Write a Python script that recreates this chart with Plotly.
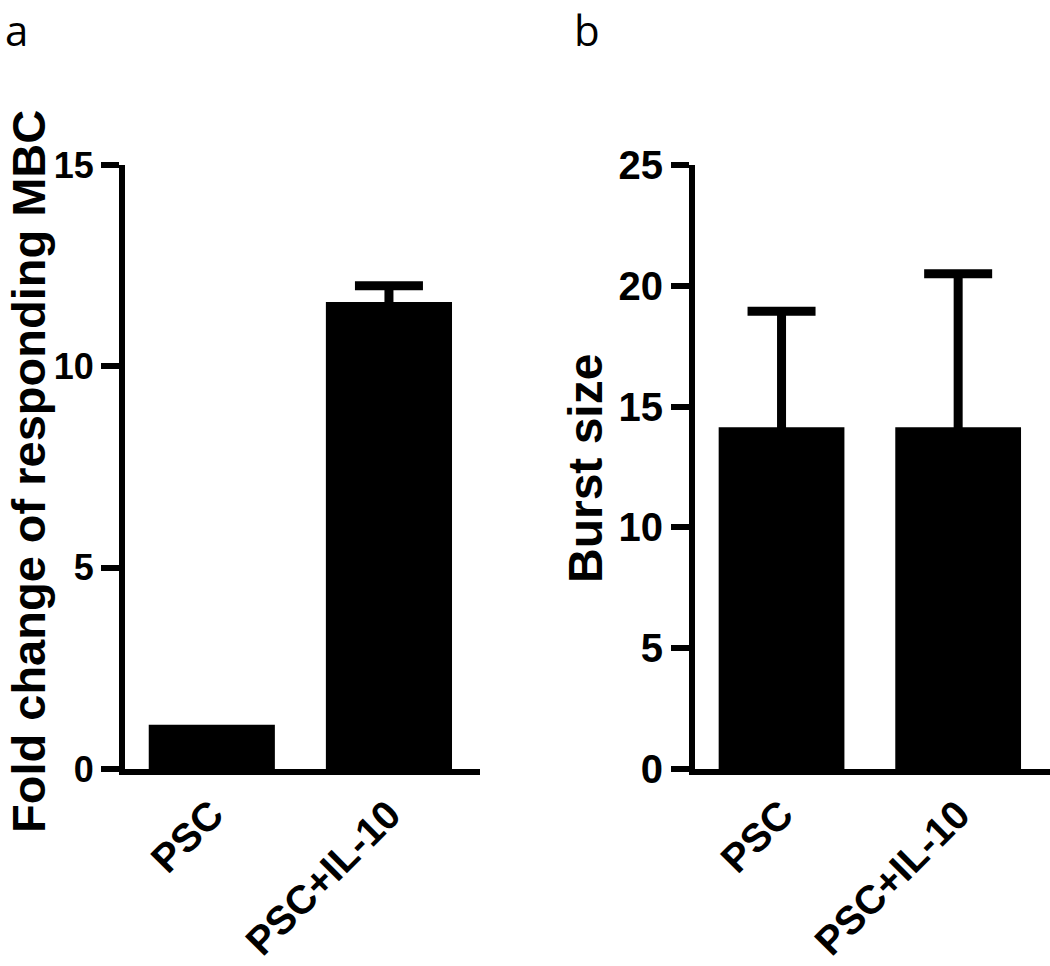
import plotly.graph_objects as go

categories = ["PSC", "PSC+IL-10"]

fold_change = [1.1, 11.6]
fold_change_err = [0.0, 0.4]

burst_size = [14.15, 14.15]
burst_size_err = [4.8, 6.35]

panel_a_ticks = [0, 5, 10, 15]
panel_b_ticks = [0, 5, 10, 15, 20, 25]

BLACK = "black"
TICKFONT = "Liberation Sans, Arial, sans-serif"

fig = go.Figure()


def add_bars(values, errors, xa, ya):
    for cat, val, err in zip(categories, values, errors):
        fig.add_trace(go.Bar(
            x=[cat], y=[val], width=0.712,
            marker=dict(color=BLACK, line=dict(width=0)),
            error_y=dict(type="data", symmetric=True, array=[err],
                         visible=err > 0, color=BLACK, thickness=9, width=34),
            xaxis=xa, yaxis=ya, showlegend=False,
        ))


add_bars(fold_change, fold_change_err, "x", "y")
add_bars(burst_size, burst_size_err, "x2", "y2")

W, H = 1050, 966


def px_x(v):
    return v / W


def px_y(v):
    return 1 - v / H


common_x = dict(
    showline=True, linecolor=BLACK, linewidth=6, ticks="", showgrid=False,
    zeroline=False, tickangle=-45, automargin=False,
    categoryorder="array", categoryarray=categories,
    tickfont=dict(family=TICKFONT, size=40, color=BLACK, weight="bold"),
)
common_y = dict(
    showline=True, linecolor=BLACK, linewidth=6, ticks="outside", ticklen=18,
    tickwidth=6, tickcolor=BLACK, showgrid=False, zeroline=False,
    automargin=False,
)

fig.update_layout(
    width=W, height=H,
    margin=dict(l=0, r=0, t=0, b=0),
    paper_bgcolor="white", plot_bgcolor="white",
    barmode="overlay",
    xaxis=dict(domain=[px_x(125), px_x(480)], range=[-0.49, 1.514],
               anchor="y", **common_x),
    yaxis=dict(domain=[px_y(769), px_y(165)], range=[0, 15],
               tickvals=panel_a_ticks, anchor="x",
               tickfont=dict(family=TICKFONT, size=36, color=BLACK, weight="bold"),
               **common_y),
    xaxis2=dict(domain=[px_x(695), 1.0], range=[-0.49, 1.52],
                anchor="y2", **common_x),
    yaxis2=dict(domain=[px_y(769), px_y(165)], range=[0, 25],
                tickvals=panel_b_ticks, anchor="x2",
                tickfont=dict(family=TICKFONT, size=40, color=BLACK, weight="bold"),
                **common_y),
    annotations=[
        dict(text="Fold change of responding MBC", textangle=-90,
             x=px_x(28), y=px_y(472), xref="paper", yref="paper",
             xanchor="center", yanchor="middle", showarrow=False,
             font=dict(family=TICKFONT, size=47, color=BLACK, weight="bold")),
        dict(text="Burst size", textangle=-90,
             x=px_x(586), y=px_y(469), xref="paper", yref="paper",
             xanchor="center", yanchor="middle", showarrow=False,
             font=dict(family=TICKFONT, size=48, color=BLACK, weight="bold")),
        dict(text="a", x=px_x(16), y=px_y(30), xref="paper", yref="paper",
             xanchor="center", yanchor="middle", showarrow=False,
             font=dict(family="Open Sans, sans-serif", size=42, color=BLACK)),
        dict(text="b", x=px_x(587), y=px_y(30), xref="paper", yref="paper",
             xanchor="center", yanchor="middle", showarrow=False,
             font=dict(family="Open Sans, sans-serif", size=42, color=BLACK)),
    ],
)

fig.write_html(
    "out.html",
    config={"displayModeBar": False},
    post_script="document.body.style.margin='0';document.body.style.overflow='hidden';",
)
